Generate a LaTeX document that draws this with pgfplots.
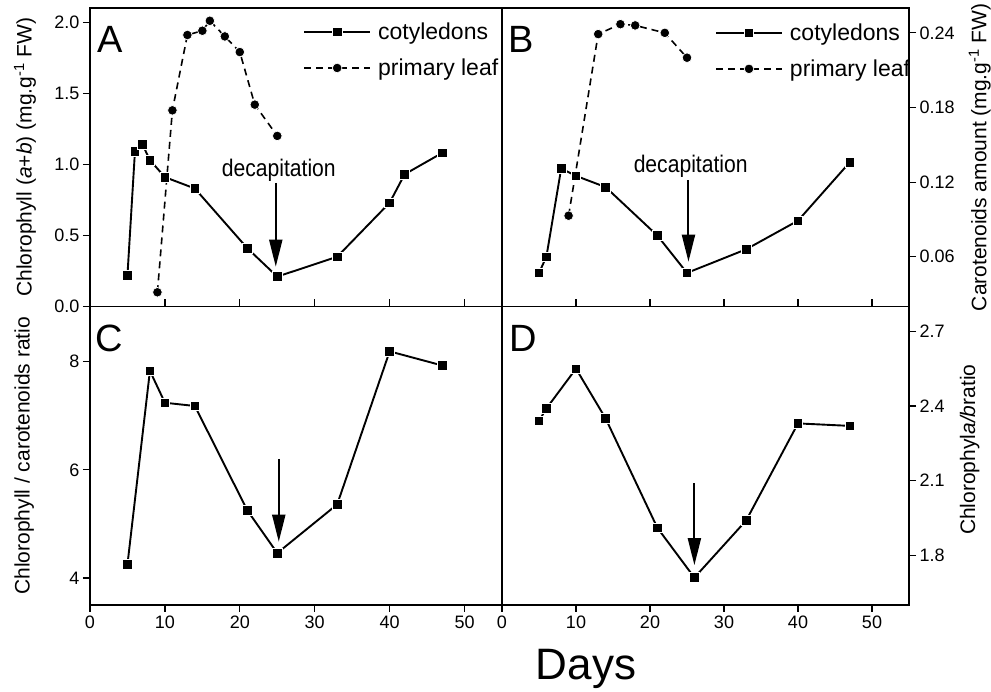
\documentclass[border=0pt]{standalone}
\usepackage{fontspec}
\setmainfont{Liberation Sans}
\newfontfamily\decsf[FakeStretch=0.88]{Liberation Sans}
\usepackage{pgfplots}
\pgfplotsset{compat=1.18}
\usetikzlibrary{arrows.meta}

\pgfplotsset{
  panel/.style={
    scale only axis, height=298.5pt,
    xmin=0, xmax=55,
    tick align=outside,
    major tick length=7pt,
    axis line style={line width=1.3pt},
    tick style={black, line width=1.2pt},
    tick label style={font=\fontsize{18}{21}\selectfont},
    /pgf/number format/assume math mode=true,
    label style={font=\fontsize{21}{24}\selectfont},
    clip=false,
  },
  cot/.style={black, line width=1.9pt, mark=square*, mark size=4.8pt,
    mark options={solid, fill=black, draw=white, line width=0.7pt}},
  leaf/.style={black, line width=1.6pt, dash pattern=on 7pt off 5pt, mark=*, mark size=4.8pt,
    mark options={solid, fill=black, draw=white, line width=0.7pt}},
  legend image code/.code={\draw[mark repeat=2,mark phase=2,#1] plot coordinates {(0pt,0pt)(33pt,0pt)(66pt,0pt)};},
  leg/.style={legend style={draw=none, fill=none, inner sep=0pt, anchor=north west,
    row sep=14pt, column sep=5pt,
    nodes={inner sep=2pt, font=\fontsize{23}{26}\selectfont}}, legend cell align=left},
}
\tikzset{decap/.style={-{Triangle[length=27pt,width=13pt]}, line width=2pt},
  plabel/.style={anchor=base west, inner sep=0pt, font=\fontsize{38}{40}\selectfont},
  dlabel/.style={anchor=center, inner sep=0pt, font=\decsf\fontsize{24}{26}\selectfont}}

\begin{document}
\begin{tikzpicture}
\useasboundingbox (-90pt,-87pt) rectangle (901pt,605pt);

% A: chlorophyll a+b
\begin{axis}[panel, leg, width=412pt, at={(0pt,298.5pt)}, anchor=south west,
  ymin=0, ymax=2.1, ytick={0,0.5,1,1.5,2}, ytick pos=left,
  yticklabel style={/pgf/number format/fixed, /pgf/number format/fixed zerofill, /pgf/number format/precision=1},
  xtick=\empty,
  ylabel={Chlorophyll (\textit{a}+\textit{b}) (mg.g\textsuperscript{-1} FW)},
  ylabel style={at={(axis description cs:-0.158,0.5)}, anchor=center},
  legend style={at={(axis description cs:0.517,0.958)}}]
\addplot[cot] coordinates {(5,0.22)(6,1.09)(7,1.14)(8,1.03)(10,0.91)(14,0.83)(21,0.41)(25,0.21)(33,0.35)(40,0.73)(42,0.93)(47,1.08)};
\addlegendentry{cotyledons}
\addplot[leaf] coordinates {(9,0.10)(11,1.38)(13,1.91)(15,1.94)(16,2.01)(18,1.90)(20,1.79)(22,1.42)(25,1.20)};
\addlegendentry{primary leaf}
\draw[decap] (axis cs:24.8,0.87) -- (axis cs:24.8,0.28);
\node[dlabel] at (axis cs:25.2,0.96) {decapitation};
\node[plabel] at (rel axis cs:0.017,0.85) {A};
\end{axis}

% B: carotenoids
\begin{axis}[panel, leg, width=407pt, at={(412pt,298.5pt)}, anchor=south west,
  ymin=0.02, ymax=0.26, ytick={0.06,0.12,0.18,0.24}, ytick pos=right, yticklabel pos=right,
  yticklabel style={/pgf/number format/fixed, /pgf/number format/fixed zerofill, /pgf/number format/precision=2},
  xtick=\empty,
  ylabel={Carotenoids amount (mg.g\textsuperscript{-1} FW)},
  ylabel style={at={(axis description cs:1.174,0.5)}, anchor=center},
  legend style={at={(axis description cs:0.523,0.955)}}]
\addplot[cot] coordinates {(5,0.047)(6,0.060)(8,0.131)(10,0.125)(14,0.116)(21,0.077)(25,0.047)(33,0.066)(40,0.089)(47,0.136)};
\addlegendentry{cotyledons}
\addplot[leaf] coordinates {(9,0.093)(13,0.239)(16,0.247)(18,0.246)(22,0.240)(25,0.220)};
\addlegendentry{primary leaf}
\draw[decap] (axis cs:25.2,0.1216) -- (axis cs:25.2,0.056);
\node[dlabel] at (axis cs:25.5,0.133) {decapitation};
\node[plabel] at (rel axis cs:0.015,0.85) {B};
\end{axis}

% C: chlorophyll / carotenoids
\begin{axis}[panel, width=412pt, at={(0pt,0pt)}, anchor=south west,
  ymin=3.5, ymax=9.02, ytick={4,6,8}, ytick pos=left,
  xtick={0,10,...,50}, xtick pos=both, xticklabel pos=bottom,
  ylabel={Chlorophyll / carotenoids ratio},
  ylabel style={at={(axis description cs:-0.160,0.5)}, anchor=center}]
\addplot[cot] coordinates {(5,4.25)(8,7.83)(10,7.24)(14,7.18)(21,5.25)(25,4.46)(33,5.36)(40,8.19)(47,7.93)};
\draw[decap] (axis cs:25.2,6.2) -- (axis cs:25.2,4.67);
\node[plabel] at (rel axis cs:0.012,0.848) {C};
\end{axis}

% D: chlorophyll a/b
\begin{axis}[panel, width=407pt, at={(412pt,0pt)}, anchor=south west,
  ymin=1.6, ymax=2.8, ytick={1.8,2.1,2.4,2.7}, ytick pos=right, yticklabel pos=right,
  yticklabel style={/pgf/number format/fixed, /pgf/number format/fixed zerofill, /pgf/number format/precision=1},
  xtick={0,10,...,50}, xtick pos=both, xticklabel pos=bottom,
  ylabel={Chlorophyl\textit{a/b}ratio},
  ylabel style={at={(axis description cs:1.149,0.52)}, anchor=center}]
\addplot[cot] coordinates {(5,2.34)(6,2.39)(10,2.55)(14,2.35)(21,1.91)(26,1.71)(33,1.94)(40,2.33)(47,2.32)};
\draw[decap] (axis cs:26,2.09) -- (axis cs:26,1.76);
\node[plabel] at (rel axis cs:0.019,0.848) {D};
\end{axis}

\node[anchor=base, font=\fontsize{44}{46}\selectfont] at (496pt,-75pt) {Days};
\end{tikzpicture}
\end{document}
